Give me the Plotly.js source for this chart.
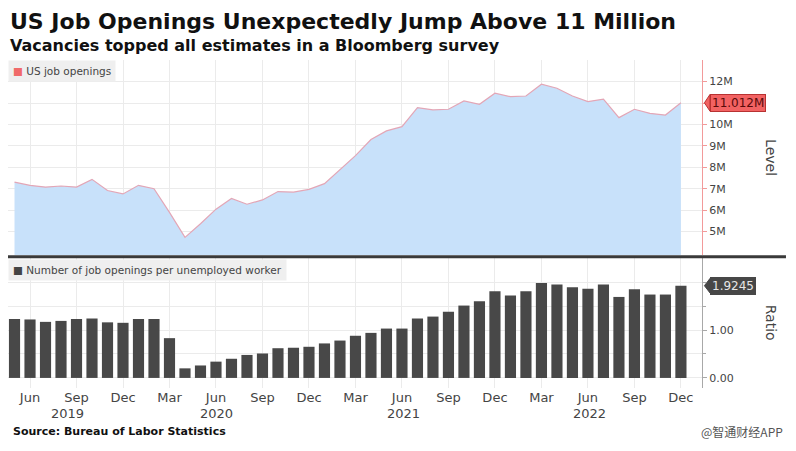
<!DOCTYPE html>
<html>
<head>
<meta charset="utf-8">
<script src="https://cdn.plot.ly/plotly-3.0.1.min.js"></script>
<style>html,body{margin:0;padding:0;background:#fff;}#chart{width:796px;height:451px;}</style>
</head>
<body>
<div id="chart"></div>
<script>
// Months (May 2019 - Dec 2022)
var months = [
  "2019-05","2019-06","2019-07","2019-08","2019-09","2019-10","2019-11","2019-12",
  "2020-01","2020-02","2020-03","2020-04","2020-05","2020-06","2020-07","2020-08","2020-09","2020-10","2020-11","2020-12",
  "2021-01","2021-02","2021-03","2021-04","2021-05","2021-06","2021-07","2021-08","2021-09","2021-10","2021-11","2021-12",
  "2022-01","2022-02","2022-03","2022-04","2022-05","2022-06","2022-07","2022-08","2022-09","2022-10","2022-11","2022-12"
];
// US job openings, millions
var openings = [
  7.31, 7.16, 7.08, 7.13, 7.08, 7.44, 6.92, 6.76,
  7.16, 7.00, 5.90, 4.73, 5.37, 6.05, 6.55, 6.28, 6.48, 6.87, 6.84, 6.97,
  7.24, 7.90, 8.55, 9.30, 9.70, 9.90, 10.79, 10.68, 10.71, 11.10, 10.94, 11.46,
  11.30, 11.33, 11.88, 11.69, 11.33, 11.07, 11.18, 10.32, 10.71, 10.52, 10.44, 11.012
];
// Job openings per unemployed worker
var ratio = [
  1.23, 1.22, 1.17, 1.19, 1.23, 1.24, 1.16, 1.15,
  1.23, 1.23, 0.83, 0.20, 0.26, 0.34, 0.40, 0.48, 0.51, 0.62, 0.63, 0.65,
  0.72, 0.78, 0.88, 0.94, 1.03, 1.03, 1.24, 1.28, 1.38, 1.51, 1.60, 1.81,
  1.72, 1.81, 1.98, 1.95, 1.89, 1.86, 1.95, 1.69, 1.85, 1.74, 1.74, 1.9245
];
var tickMonths = ["2019-06","2019-09","2019-12","2020-03","2020-06","2020-09","2020-12","2021-03","2021-06","2021-09","2021-12","2022-03","2022-06","2022-09","2022-12"];
var tickText = ["Jun","Sep","Dec","Mar","Jun","Sep","Dec","Mar","Jun","Sep","Dec","Mar","Jun","Sep","Dec"];
var yearLabels = ["2019","2020","2021","2022"];
var yearPos = [3.45, 13.05, 25.1, 37.1];
var levelTicks = [5,6,7,8,9,10,11,12];
var levelText = ["5M","6M","7M","8M","9M","10M","","12M"];
var ratioTicks = [0,1];
var ratioText = ["0.00","1.00"];

var FONT = "DejaVu Sans, Verdana, sans-serif";
var lastOpen = openings[openings.length-1];
var lastRatio = ratio[ratio.length-1];

var traces = [
  {
    x: months, y: openings, type: "scatter", mode: "lines",
    fill: "tozeroy", fillcolor: "#c8e1fa",
    line: {color: "#e3a6b6", width: 1.2},
    xaxis: "x", yaxis: "y", hoverinfo: "skip", showlegend: false
  },
  {
    x: months, y: ratio, type: "bar", width: 0.72,
    marker: {color: "#484848"},
    xaxis: "x2", yaxis: "y2", hoverinfo: "skip", showlegend: false
  }
];

var xr = [-0.42, 44.36];
var annotations = [
  {text: "<b>US Job Openings Unexpectedly Jump Above 11 Million</b>", xref: "paper", yref: "paper",
   x: 0, y: 1.116, xanchor: "left", yanchor: "middle", showarrow: false,
   font: {family: FONT, size: 22, color: "#111"}},
  {text: "<b>Vacancies topped all estimates in a Bloomberg survey</b>", xref: "paper", yref: "paper",
   x: 0, y: 1.0427, xanchor: "left", yanchor: "middle", showarrow: false,
   font: {family: FONT, size: 16, color: "#111"}},
  {text: "<b>Source: Bureau of Labor Statistics</b>", xref: "paper", yref: "paper",
   x: 0.005, y: -0.134, xanchor: "left", yanchor: "middle", showarrow: false,
   font: {family: FONT, size: 11, color: "#111"}},
  {text: "@智通财经APP", xref: "paper", yref: "paper",
   x: 1.12, y: -0.134, xanchor: "right", yanchor: "middle", showarrow: false,
   font: {family: "Noto Sans CJK SC, sans-serif", size: 12, color: "#555"}},
  {text: "<span style='color:#f06a6a'>■</span> US job openings", xref: "paper", yref: "paper",
   x: 0, y: 0.9985, xanchor: "left", yanchor: "top", showarrow: false,
   bgcolor: "#efefef", borderpad: 4,
   font: {family: FONT, size: 10.5, color: "#444"}},
  {text: "<span style='color:#444'>■</span> Number of job openings per unemployed worker", xref: "paper", yref: "paper",
   x: 0, y: 0.393, xanchor: "left", yanchor: "top", showarrow: false,
   bgcolor: "#efefef", borderpad: 4,
   font: {family: FONT, size: 10.5, color: "#444"}},
  {text: lastOpen.toFixed(3) + "M", xref: "paper", yref: "y", x: 1.011, y: lastOpen,
   xanchor: "left", yanchor: "middle", showarrow: false,
   bgcolor: "#f26262", bordercolor: "#b83232", borderwidth: 1, borderpad: 1,
   font: {family: FONT, size: 12, color: "#5a0a0a"}},
  {text: lastRatio.toFixed(4), xref: "paper", yref: "y2", x: 1.011, y: lastRatio,
   xanchor: "left", yanchor: "middle", showarrow: false,
   bgcolor: "#474747", bordercolor: "#474747", borderwidth: 1, borderpad: 1,
   font: {family: FONT, size: 12, color: "#e6e6e6"}},
  {text: "Level", xref: "paper", yref: "paper", x: 1.1, y: 0.7027, textangle: 90,
   xanchor: "center", yanchor: "middle", showarrow: false,
   font: {family: FONT, size: 14, color: "#444"}},
  {text: "Ratio", xref: "paper", yref: "paper", x: 1.1, y: 0.198, textangle: 90,
   xanchor: "center", yanchor: "middle", showarrow: false,
   font: {family: FONT, size: 14, color: "#444"}}
];
yearLabels.forEach(function (t, i) {
  annotations.push({text: t, xref: "x2", yref: "paper", x: yearPos[i], y: -0.077,
    xanchor: "center", yanchor: "middle", showarrow: false,
    font: {family: FONT, size: 13, color: "#444"}});
});

var layout = {
  width: 796, height: 451,
  margin: {l: 8, r: 94, t: 60, b: 63},
  paper_bgcolor: "#ffffff", plot_bgcolor: "#ffffff",
  font: {family: FONT, color: "#333"},
  showlegend: false,
  xaxis: {
    type: "category", range: xr, domain: [0, 1], anchor: "y",
    tickvals: tickMonths, ticktext: tickText, showticklabels: false,
    showgrid: true, gridcolor: "#ebebeb", gridwidth: 1, ticks: "", zeroline: false,
    matches: "x2"
  },
  yaxis: {
    domain: [0.4055, 1], range: [3.91, 13.01], side: "right", anchor: "x",
    tickvals: levelTicks, ticktext: levelText,
    showgrid: true, gridcolor: "#ebebeb", zeroline: false,
    showline: true, linecolor: "#f29a9a", linewidth: 1,
    ticks: "outside", ticklen: 4, tickcolor: "#f29a9a",
    tickfont: {family: FONT, size: 11, color: "#444"}
  },
  xaxis2: {
    type: "category", range: xr, domain: [0, 1], anchor: "y2",
    tickvals: tickMonths, ticktext: tickText,
    showgrid: true, gridcolor: "#ebebeb", ticks: "", zeroline: false,
    tickfont: {family: FONT, size: 13, color: "#444"}
  },
  yaxis2: {
    domain: [0, 0.396], range: [-0.21, 2.5], side: "right", anchor: "x2",
    tickvals: ratioTicks, ticktext: ratioText,
    showgrid: true, gridcolor: "#ebebeb", zeroline: false,
    showline: true, linecolor: "#a8a8a8", linewidth: 1,
    ticks: "outside", ticklen: 4, tickcolor: "#a8a8a8",
    minor: {tickvals: [0.5, 1.5, 2.0], showgrid: true, gridcolor: "#ebebeb", ticks: "outside", ticklen: 3, tickcolor: "#a8a8a8"},
    tickfont: {family: FONT, size: 11, color: "#444"}
  },
  shapes: [
    {type: "line", xref: "paper", yref: "paper", x0: 0, x1: 1.121, y0: 0.4, y1: 0.4,
     line: {color: "#3a3a3a", width: 3}},
    {type: "path", xref: "paper", yref: "y",
     path: "M 1.0035," + lastOpen + " L 1.0115," + (lastOpen + 0.39) + " L 1.0115," + (lastOpen - 0.39) + " Z",
     fillcolor: "#f26262", line: {color: "#b83232", width: 1}},
    {type: "path", xref: "paper", yref: "y2",
     path: "M 1.0035," + lastRatio + " L 1.0115," + (lastRatio + 0.15) + " L 1.0115," + (lastRatio - 0.15) + " Z",
     fillcolor: "#474747", line: {color: "#474747", width: 1}}
  ],
  annotations: annotations
};

Plotly.newPlot("chart", traces, layout, {displayModeBar: false, staticPlot: true});
</script>
</body>
</html>
